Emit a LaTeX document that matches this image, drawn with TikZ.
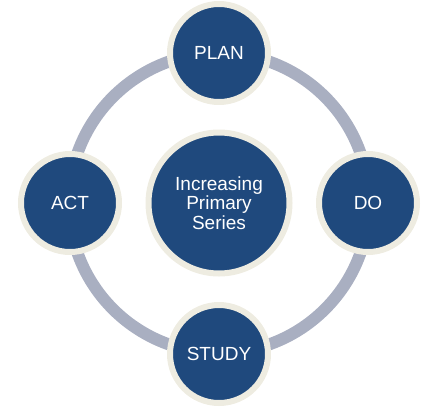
\documentclass[tikz,border=0pt]{standalone}
\usepackage{fontspec}
\setmainfont{Liberation Sans}
\usepackage{tikz}

\definecolor{pdsablue}{HTML}{1F497D}
\definecolor{pdsacream}{HTML}{EEECE1}
\definecolor{pdsaring}{HTML}{A9AFC1}

\tikzset{
  phase/.style={circle, fill=pdsablue, draw=pdsacream, line width=6pt,
    minimum size=98pt, inner sep=0pt, text=white, font=\fontsize{19}{22}\selectfont},
  hub/.style={circle, fill=pdsablue, draw=pdsacream, line width=6pt,
    minimum size=141pt, inner sep=0pt, text=white, align=center,
    font=\fontsize{19}{19.5}\selectfont},
  ring/.style={draw=pdsaring, line width=12pt}
}

\begin{document}
\begin{tikzpicture}[x=1pt,y=-1pt]
        \useasboundingbox (0,0) rectangle (430,407);
        \coordinate (c) at (219,203);
        \draw[ring] (c) circle (150);
        %\draw[step=10pt,color=gray] (0,0) grid (430,407);
        \node[hub] (hub) at (c) {Increasing\\Primary\\Series};
        \node[phase] (plan) at (219,53) {PLAN};
        \node[phase] (do) at (368,203) {DO};
        \node[phase] (study) at (219,354) {STUDY};
        \node[phase] (act) at (70,203) {ACT};
\end{tikzpicture}
\end{document}
